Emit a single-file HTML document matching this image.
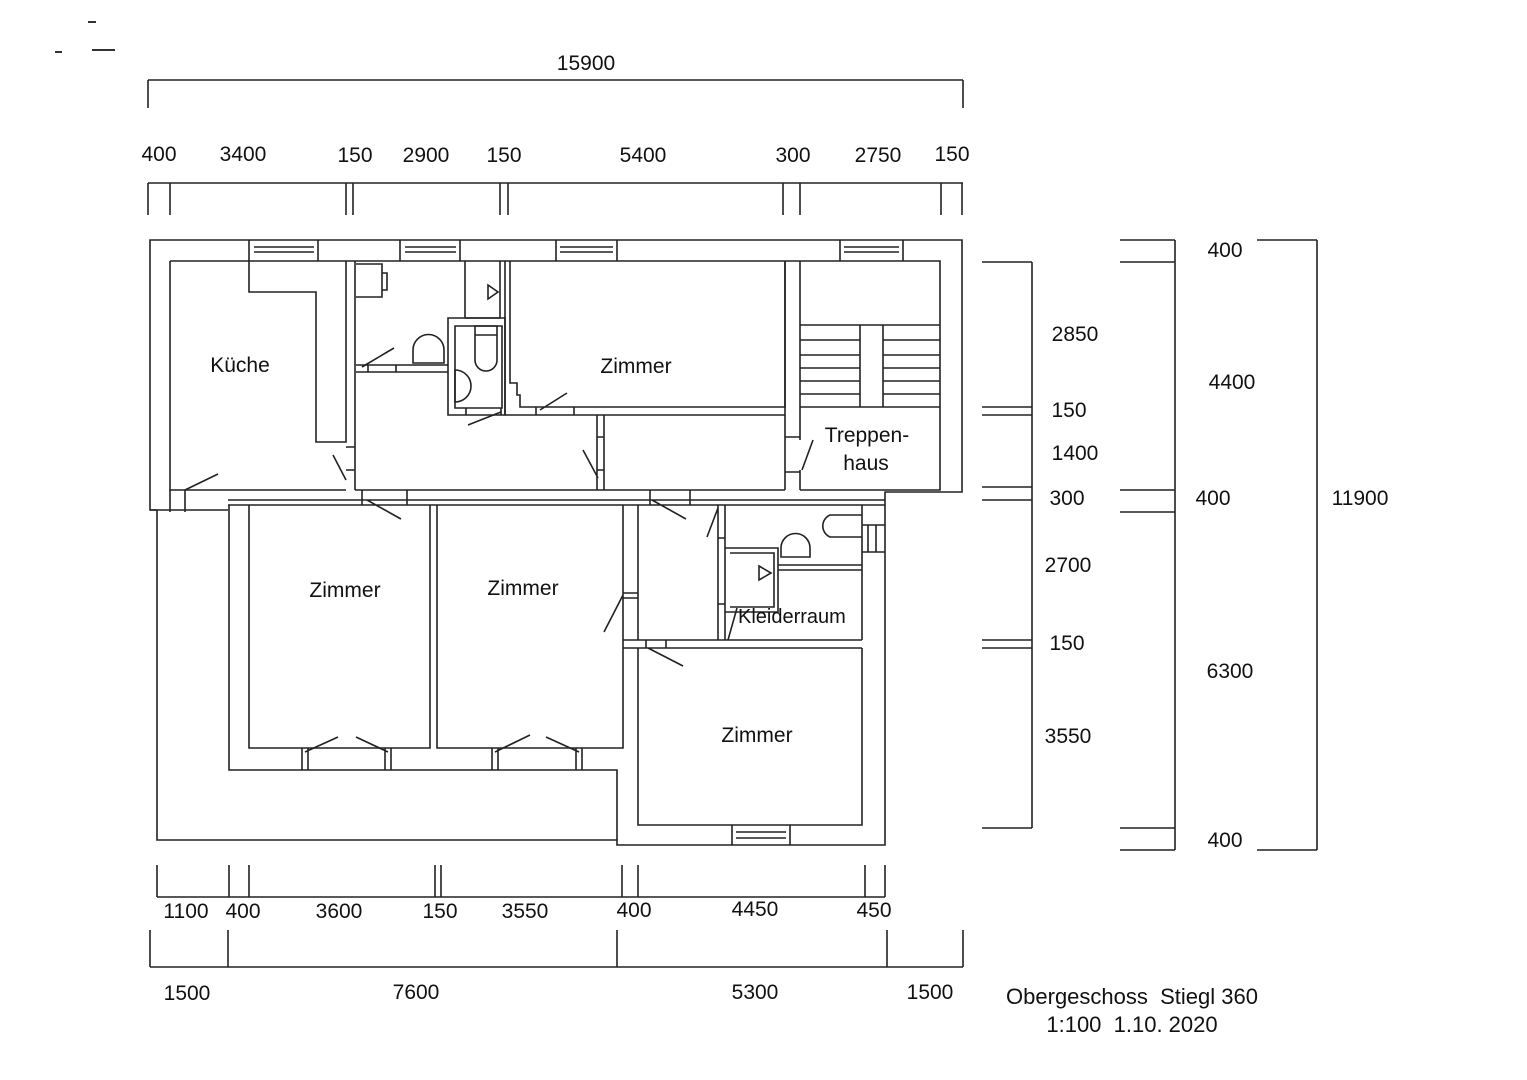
<!DOCTYPE html>
<html><head><meta charset="utf-8"><style>
html,body{margin:0;padding:0;background:#fff;}
svg{display:block}
text{font-family:"Liberation Sans",sans-serif;fill:#111;white-space:pre}
</style></head><body>
<svg width="1527" height="1080" viewBox="0 0 1527 1080" xmlns="http://www.w3.org/2000/svg">
<g stroke="#222" stroke-width="1.6" fill="none">
<path d="M148,80 H963 M148,80 V108 M963,80 V108"/>
<path d="M148,183 H963"/>
<path d="M148,183V215 M170,183V215 M346,183V215 M353,183V215 M500,183V215 M508,183V215 M783,183V215 M800,183V215 M941,183V215 M962,183V215"/>
<path d="M1032,262 V828 M982,262 H1032 M982,407 H1032 M982,415 H1032 M982,487 H1032 M982,500 H1032 M982,640 H1032 M982,648 H1032 M982,828 H1032"/>
<path d="M1175,240 V850 M1120,240 H1175 M1120,262 H1175 M1120,490 H1175 M1120,512 H1175 M1120,828 H1175 M1120,850 H1175"/>
<path d="M1317,240 V850 M1257,240 H1317 M1257,850 H1317"/>
<path d="M157,897 H885 M157,865V897 M229,865V897 M249,865V897 M435,865V897 M441,865V897 M622,865V897 M638,865V897 M865,865V897 M885,865V897"/>
<path d="M150,967 H963 M150,930V967 M228,930V967 M617,930V967 M887,930V967 M963,930V967"/>

<path d="M150,240 H962 V492 H885 V845 H617 V840 H157 V510 H150 Z"/>
<path d="M170,261 V490 H346"/>
<path d="M170,490 V512 M185,490 V512 M150,510 H228"/>
<path d="M229,505 V770 H617 V840"/>
<path d="M170,261 H940 V490 H800"/>
<path d="M249,240V261 M318,240V261 M254,247H314 M254,252H314 M400,240V261 M460,240V261 M405,247H456 M405,252H456 M556,240V261 M617,240V261 M560,247H613 M560,252H613 M840,240V261 M903,240V261 M844,247H899 M844,252H899"/>
<path d="M249,261 V292 H316 V442 H346 V261 M355,261 V490 M346,447 H355 M346,470 H355"/>
<path d="M356,264 H382 V297 H356 M382,273 H387 V290 H382"/>
<path d="M356,365 H448 M356,372 H448 M368,365V372 M396,365V372"/>
<path d="M413,363 V350 A15,15 0 0 1 444,350 V363 Z"/>
<path d="M362,367 L394,348"/>
<path d="M465,261 V318 M465,318 H500 V261 M488,285 L498,292 L488,299 Z"/>
<path d="M448,318 H505 V415 H448 Z M455,326 H502 V408 H455 Z"/>
<path d="M475,326 H497 V360 A11,11 0 0 1 475,360 Z M475,335 H497"/>
<path d="M455,370 A16,16 0 0 1 455,402 Z"/>
<path d="M466,408 V415 M501,408 V415 M468,425 L501,412"/>
<path d="M510,261 V383 H517 V395 H520 V407 H785 V261 M505,261 V415 M505,415 H785 M536,407V415 M574,407V415 M540,410 L567,393"/>
<path d="M597,415 V490 M604,415 V490 M597,437H604 M597,470H604 M583,450 L598,478"/>
<path d="M355,490 H785 M785,261 V490 M800,261 V440 M800,470 V490 M785,437 H800 M785,472 H800 M802,470 L813,440"/>
<path d="M333,455 L346,480"/>
<path d="M185,490 L218,474"/>
<path d="M800,325 H940 M860,325 V407 M883,325 V407 M800,407 H940 M800,340H860 M800,355H860 M800,368H860 M800,381H860 M800,394H860 M883,340H940 M883,355H940 M883,368H940 M883,381H940 M883,394H940"/>
<path d="M228,500 H885 M228,505 H885 M362,490V505 M407,490V505 M650,490V505 M690,490V505 M367,500 L401,519 M652,500 L686,519"/>
<path d="M249,505 V748 H430 V505 M437,505 V748 H623 V505 M623,505 V640 M638,505 V640 M623,593H638 M623,598H638 M604,632 L623,595"/>
<path d="M718,505 V640 M725,505 V640 M718,538H725 M718,604H725 M707,537 L718,508 M737,608 L728,640"/>
<path d="M725,548 H778 V612 H725 M730,553 H774 V607 H730 M759,566 L771,573 L759,580 Z"/>
<path d="M778,565 H862 M778,570 H862 M781,557 V548 A14,14 0 0 1 810,548 V557 Z"/>
<path d="M830,515 A12,12 0 0 0 830,537 H862 V515 Z M862,505 V640 M862,525 H885 M862,552 H885 M868,525V552 M876,525V552"/>
<path d="M623,640 H862 M623,648 H862 M646,640V648 M666,640V648 M648,648 L683,666"/>
<path d="M638,648 V825 H862 V648 M732,825 V845 M790,825 V845 M736,832 H786 M736,838 H786"/>
<path d="M302,748 V770 M308,748 V770 M385,748 V770 M391,748 V770 M305,752 L338,737 M388,752 L356,737"/>
<path d="M492,748 V770 M498,748 V770 M576,748 V770 M582,748 V770 M495,752 L530,735 M579,752 L546,737"/>
</g>
<g font-size="21" text-anchor="middle">
<text x="240" y="372">Küche</text>
<text x="636" y="373">Zimmer</text>
<text x="867" y="442">Treppen-</text>
<text x="866" y="470">haus</text>
<text x="345" y="597">Zimmer</text>
<text x="523" y="595">Zimmer</text>
<text x="757" y="742">Zimmer</text>
<text x="738" y="623" font-size="20" text-anchor="start">Kleiderraum</text>
</g>
<g font-size="21" text-anchor="middle">
<text x="586" y="70">15900</text>
<text x="159" y="161">400</text>
<text x="243" y="161">3400</text>
<text x="355" y="162">150</text>
<text x="426" y="162">2900</text>
<text x="504" y="162">150</text>
<text x="643" y="162">5400</text>
<text x="793" y="162">300</text>
<text x="878" y="162">2750</text>
<text x="952" y="161">150</text>
<text x="1075" y="341">2850</text>
<text x="1069" y="417">150</text>
<text x="1075" y="460">1400</text>
<text x="1067" y="505">300</text>
<text x="1068" y="572">2700</text>
<text x="1067" y="650">150</text>
<text x="1068" y="743">3550</text>
<text x="1225" y="257">400</text>
<text x="1232" y="389">4400</text>
<text x="1213" y="505">400</text>
<text x="1230" y="678">6300</text>
<text x="1225" y="847">400</text>
<text x="1360" y="505">11900</text>
<text x="186" y="918">1100</text>
<text x="243" y="918">400</text>
<text x="339" y="918">3600</text>
<text x="440" y="918">150</text>
<text x="525" y="918">3550</text>
<text x="634" y="917">400</text>
<text x="755" y="916">4450</text>
<text x="874" y="917">450</text>
<text x="187" y="1000">1500</text>
<text x="416" y="999">7600</text>
<text x="755" y="999">5300</text>
<text x="930" y="999">1500</text>
<text x="1132" y="1004" font-size="22">Obergeschoss  Stiegl 360</text>
<text x="1132" y="1032" font-size="22">1:100  1.10. 2020</text>
</g>
<g stroke="#333" stroke-width="2"><path d="M88,22 H96 M92,50 H115 M55,52 H62"/></g>
</svg>
</body></html>
